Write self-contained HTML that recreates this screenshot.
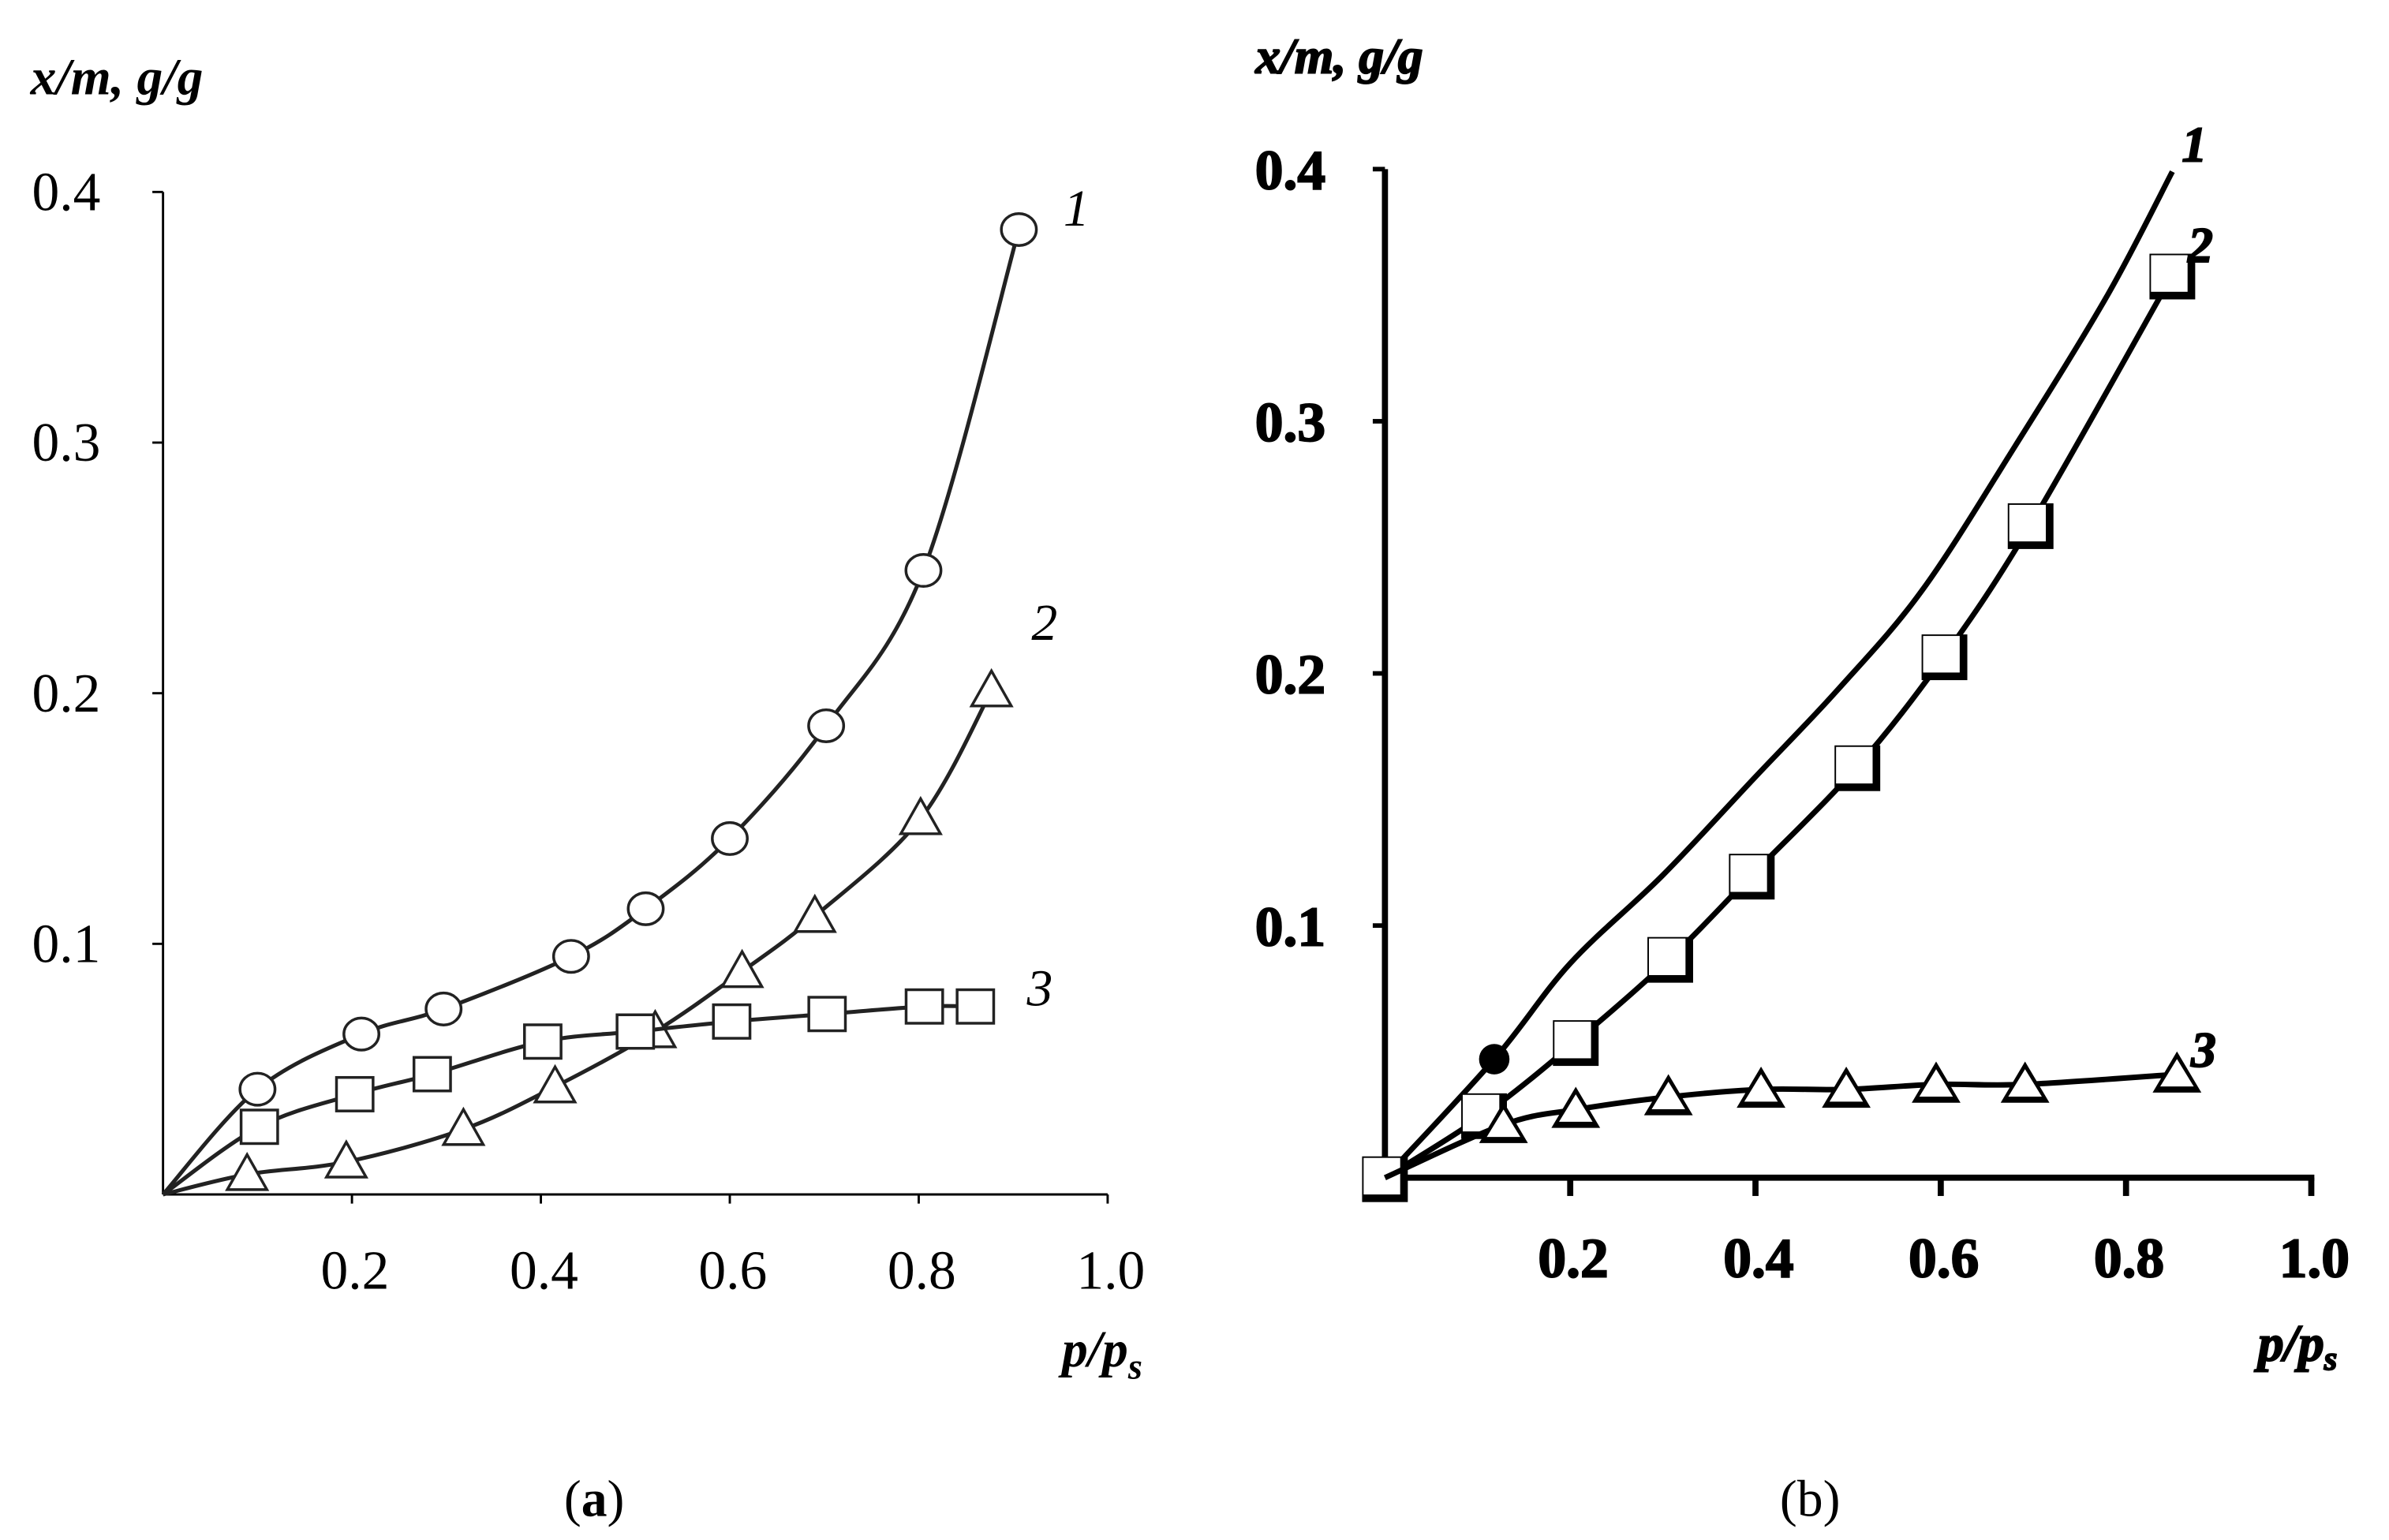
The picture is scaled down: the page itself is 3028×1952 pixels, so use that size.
<!DOCTYPE html>
<html><head><meta charset="utf-8"><style>
html,body{margin:0;padding:0;background:#fff;}
svg{display:block;}
</style></head><body>
<svg id="fig" xmlns="http://www.w3.org/2000/svg" width="3028" height="1952" viewBox="0 0 1568 1010.8">
<rect width="1568" height="1011" fill="#fff"/>
<g id="pa"></g>
<g id="pb"></g>
<text x="390" y="995" font-family="Liberation Serif, serif" font-size="34" text-anchor="middle">(<tspan font-weight="bold">a</tspan>)</text>
<text x="1188" y="995" font-family="Liberation Serif, serif" font-size="34" text-anchor="middle">(b)</text>
</svg>
<script>
// Panel (a) data
const aS1x=[0,0.1,0.21,0.297,0.432,0.511,0.6,0.702,0.805,0.906];
const aS1y=[0,0.042,0.064,0.074,0.095,0.114,0.142,0.187,0.249,0.385];
const aS2x=[0,0.089,0.194,0.318,0.415,0.521,0.613,0.69,0.802,0.877];
const aS2y=[0,0.008,0.013,0.026,0.043,0.065,0.089,0.111,0.150,0.201];
const aS3x=[0,0.102,0.203,0.285,0.402,0.5,0.602,0.703,0.806,0.86];
const aS3y=[0,0.027,0.040,0.048,0.061,0.065,0.069,0.072,0.075,0.075];
// Panel (b) data
const bS1x=[0,0.118,0.2,0.3,0.4,0.49,0.58,0.68,0.78,0.85];
const bS1y=[0,0.047,0.085,0.120,0.159,0.194,0.233,0.290,0.350,0.399];
const bS2x=[0,0.107,0.206,0.308,0.396,0.51,0.604,0.697,0.85];
const bS2y=[0,0.025,0.054,0.087,0.120,0.163,0.207,0.259,0.358];
const bS3x=[0,0.128,0.206,0.306,0.406,0.498,0.595,0.691,0.855];
const bS3y=[0,0.021,0.027,0.032,0.035,0.035,0.037,0.037,0.041];
const xTicks=[0.2,0.4,0.6,0.8,1.0];
const xTickLabels=["0.2","0.4","0.6","0.8","1.0"];
const yTicks=[0.1,0.2,0.3,0.4];
const yTickLabels=["0.1","0.2","0.3","0.4"];

const NS="http://www.w3.org/2000/svg";
function mk(parent,tag,attrs){const e=document.createElementNS(NS,tag);for(const k in attrs)e.setAttribute(k,attrs[k]);parent.appendChild(e);return e;}
function smooth(pts){let d="M"+pts[0][0]+","+pts[0][1];for(let i=0;i<pts.length-1;i++){const p0=pts[Math.max(i-1,0)],p1=pts[i],p2=pts[i+1],p3=pts[Math.min(i+2,pts.length-1)];const c1x=p1[0]+(p2[0]-p0[0])/6,c1y=p1[1]+(p2[1]-p0[1])/6,c2x=p2[0]-(p3[0]-p1[0])/6,c2y=p2[1]-(p3[1]-p1[1])/6;d+=" C"+c1x+","+c1y+" "+c2x+","+c2y+" "+p2[0]+","+p2[1];}return d;}

// Panel a
(function(){
const g=document.getElementById('pa');
const X0=107,X1=727,Y0=784,Y4=126;
const sx=v=>X0+(X1-X0)*v, sy=v=>Y0-(Y0-Y4)*v/0.4;
const ff="Liberation Serif, serif";
let e=mk(g,'line',{x1:X0,y1:Y4,x2:X0,y2:Y0,stroke:'#000','stroke-width':1.5});

e=mk(g,'line',{x1:X0,y1:Y0,x2:X1,y2:Y0,stroke:'#000','stroke-width':1.5});

yTicks.forEach((v,i)=>{mk(g,'line',{x1:X0-7,y1:sy(v),x2:X0,y2:sy(v),stroke:'#000','stroke-width':1.5});
const t=mk(g,'text',{x:66,y:sy(v)+12,'font-family':ff,'font-size':36,'text-anchor':'end'});t.textContent=yTickLabels[i];
});
xTicks.forEach((v,i)=>{mk(g,'line',{x1:sx(v),y1:Y0,x2:sx(v),y2:Y0+6,stroke:'#000','stroke-width':1.5});
const t=mk(g,'text',{x:sx(v)+2,y:846,'font-family':ff,'font-size':36,'text-anchor':'middle'});t.textContent=xTickLabels[i];
});
let t=mk(g,'text',{x:20,y:62,'font-family':ff,'font-size':34,'font-weight':'bold','font-style':'italic'});t.textContent="x/m, g/g";

t=mk(g,'text',{x:697,y:897,'font-family':ff,'font-size':34,'font-weight':'bold','font-style':'italic'});t.innerHTML='p/p<tspan font-size="24" dy="8">s</tspan>';

const series=[[aS1x,aS1y,'circle','1',698,148],[aS2x,aS2y,'tri','2',677,420],[aS3x,aS3y,'sq','3',674,660]];
series.forEach(s=>{const pts=s[0].map((x,i)=>[sx(x),sy(s[1][i])]);
const p=mk(g,'path',{d:smooth(pts),fill:'none',stroke:'#222','stroke-width':2.6});

pts.slice(1).forEach(q=>{let m;
if(s[2]==='circle')m=mk(g,'ellipse',{cx:q[0],cy:q[1],rx:11.5,ry:10.5,fill:'#fff',stroke:'#222','stroke-width':1.8});
else if(s[2]==='sq')m=mk(g,'rect',{x:q[0]-12,y:q[1]-11,width:24,height:22,fill:'#fff',stroke:'#222','stroke-width':1.8});
else m=mk(g,'polygon',{points:(q[0])+','+(q[1]-13)+' '+(q[0]-13)+','+(q[1]+10)+' '+(q[0]+13)+','+(q[1]+10),fill:'#fff',stroke:'#222','stroke-width':1.8});
});
const l=mk(g,'text',{x:s[4],y:s[5],'font-family':ff,'font-size':34,'font-style':'italic'});l.textContent=s[3];
});
})();

// Panel b
(function(){
const g=document.getElementById('pb');
const X0=909,X1=1517,Y0=773,Y4=111;
const sx=v=>X0+(X1-X0)*v, sy=v=>Y0-(Y0-Y4)*v/0.4;
const ff="Liberation Serif, serif";
let e=mk(g,'line',{x1:X0,y1:Y4,x2:X0,y2:Y0,stroke:'#000','stroke-width':4});

e=mk(g,'line',{x1:X0,y1:Y0,x2:X1+2,y2:Y0,stroke:'#000','stroke-width':4});

yTicks.forEach((v,i)=>{mk(g,'line',{x1:X0-8,y1:sy(v),x2:X0,y2:sy(v),stroke:'#000','stroke-width':3});
const t=mk(g,'text',{x:870,y:sy(v)+13,'font-family':ff,'font-size':37,'font-weight':'bold','text-anchor':'end',stroke:'#000','stroke-width':1});t.textContent=yTickLabels[i];
});
xTicks.forEach((v,i)=>{mk(g,'line',{x1:sx(v),y1:Y0,x2:sx(v),y2:Y0+12,stroke:'#000','stroke-width':4});
const t=mk(g,'text',{x:sx(v)+2,y:838,'font-family':ff,'font-size':37,'font-weight':'bold','text-anchor':'middle',stroke:'#000','stroke-width':1});t.textContent=xTickLabels[i];
});
let t=mk(g,'text',{x:824,y:48,'font-family':ff,'font-size':33,'font-weight':'bold','font-style':'italic',stroke:'#000','stroke-width':1});t.textContent="x/m, g/g";

t=mk(g,'text',{x:1482,y:893,'font-family':ff,'font-size':34,'font-weight':'bold','font-style':'italic',stroke:'#000','stroke-width':1});t.innerHTML='p/p<tspan font-size="22" dy="6">s</tspan>';

const series=[[bS1x,bS1y,'none','1',1432,106],[bS2x,bS2y,'sq','2',1436,172],[bS3x,bS3y,'tri','3',1438,700]];
series.forEach(s=>{const pts=s[0].map((x,i)=>[sx(x),sy(s[1][i])]);
const p=mk(g,'path',{d:smooth(pts),fill:'none',stroke:'#000','stroke-width':3.6});

if(s[2]==='none'){const q=pts[1];const m=mk(g,'circle',{cx:q[0],cy:q[1],r:10,fill:'#000'});
}
pts.forEach((q,i)=>{if(s[2]==='none')return;if(s[2]==='tri'&&i===0)return;let m;
if(s[2]==='sq'){m=mk(g,'g',{});mk(m,'rect',{x:q[0]-15,y:q[1]-14,width:30,height:30,fill:'#000'});mk(m,'rect',{x:q[0]-14,y:q[1]-13,width:24,height:24,fill:'#fff'});}
else{m=mk(g,'g',{});mk(m,'polygon',{points:(q[0])+','+(q[1]-15)+' '+(q[0]-16)+','+(q[1]+12)+' '+(q[0]+16)+','+(q[1]+12),fill:'#000'});
mk(m,'polygon',{points:(q[0])+','+(q[1]-10)+' '+(q[0]-11)+','+(q[1]+8)+' '+(q[0]+11)+','+(q[1]+8),fill:'#fff'});}
});
const l=mk(g,'text',{x:s[4],y:s[5],'font-family':ff,'font-size':33,'font-weight':'bold','font-style':'italic',stroke:'#000','stroke-width':1});l.textContent=s[3];
});
})();
</script>
</body></html>
